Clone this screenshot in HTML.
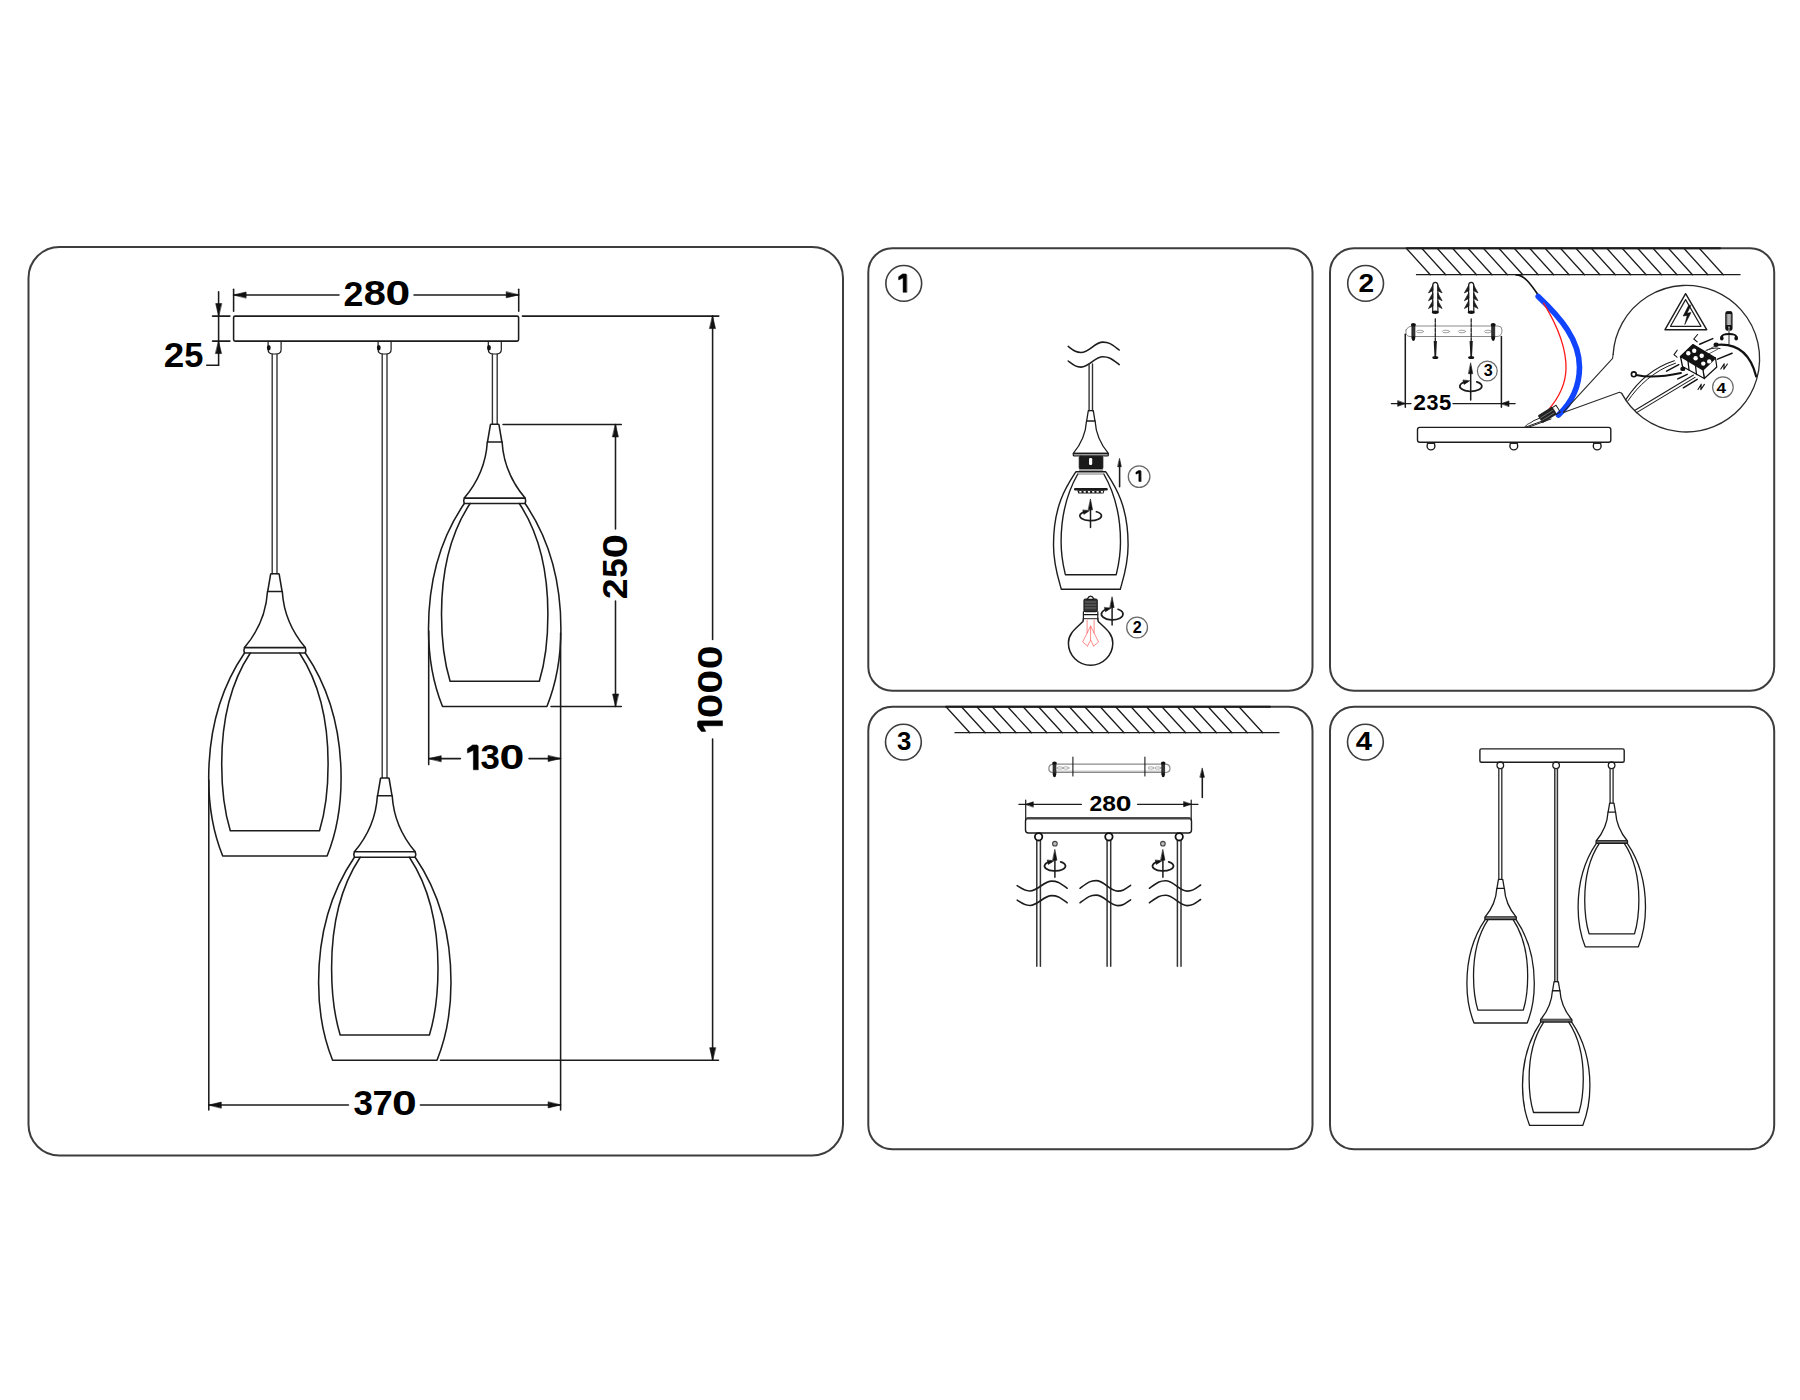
<!DOCTYPE html>
<html><head><meta charset="utf-8"><style>
html,body{margin:0;padding:0;background:#fff;overflow:hidden;}
svg{display:block;}
text{font-family:"Liberation Sans",sans-serif;}
</style></head><body>
<svg width="1800" height="1400" viewBox="0 0 1800 1400" stroke-linecap="round" stroke-linejoin="round">
<rect x="0" y="0" width="1800" height="1400" fill="#fff"/>
<g >
<rect x="28.5" y="247" width="814.5" height="908.5" rx="31" fill="none" stroke="#3d3d3d" stroke-width="2"/>
<rect x="233.6" y="316.1" width="285" height="25" rx="1.5" stroke="#1c1c1c" stroke-width="1.55" fill="none" />
<path d="M268.1,341.3 L268.1,349.5 Q268.1,353.6 272.2,354 L277,354 Q281.1,353.6 281.1,349.5 L281.1,341.3" stroke="#1c1c1c" stroke-width="1.2" fill="none" />
<ellipse cx="268.8" cy="347.8" rx="1.9" ry="2.7" fill="#111"/>
<path d="M378.1,341.3 L378.1,349.5 Q378.1,353.6 382.2,354 L387,354 Q391.1,353.6 391.1,349.5 L391.1,341.3" stroke="#1c1c1c" stroke-width="1.2" fill="none" />
<ellipse cx="378.8" cy="347.8" rx="1.9" ry="2.7" fill="#111"/>
<path d="M488.3,341.3 L488.3,349.5 Q488.3,353.6 492.4,354 L497.2,354 Q501.3,353.6 501.3,349.5 L501.3,341.3" stroke="#1c1c1c" stroke-width="1.2" fill="none" />
<ellipse cx="489" cy="347.8" rx="1.9" ry="2.7" fill="#111"/>
<line x1="272.2" y1="354" x2="272.2" y2="573.7" stroke="#333" stroke-width="1.38" />
<line x1="277" y1="354" x2="277" y2="573.7" stroke="#333" stroke-width="1.38" />
<line x1="382.2" y1="354" x2="382.2" y2="777.8" stroke="#333" stroke-width="1.38" />
<line x1="387" y1="354" x2="387" y2="777.8" stroke="#333" stroke-width="1.38" />
<line x1="492.4" y1="354" x2="492.4" y2="424.2" stroke="#333" stroke-width="1.38" />
<line x1="497.2" y1="354" x2="497.2" y2="424.2" stroke="#333" stroke-width="1.38" />
<path d="M270.6,574.3 Q270.6,573.7 271.5,573.7 L278.3,573.7 Q279.2,573.7 279.2,574.3 L282.1,591.5 L267.7,591.5 Z" stroke="#1c1c1c" stroke-width="1.55" fill="none" />
<path d="M267.5,591.5 C266.3,611.7 257.9,631.7 244.5,647.6 L305.3,647.6 C291.9,631.7 283.5,611.7 282.3,591.5" stroke="#1c1c1c" stroke-width="1.55" fill="none" />
<path d="M244.5,647.6 L243.9,650.3 L244.5,653 L305.3,653 L305.9,650.3 L305.3,647.6" stroke="#1c1c1c" stroke-width="1.55" fill="none" />
<path d="M244.5,653 C224.9,681.7 208.7,721.7 208.7,778.3 C208.7,813.7 216.9,841.7 222.7,856 L327.1,856 C332.9,841.7 341.1,813.7 341.1,778.3 C341.1,721.7 324.9,681.7 305.3,653" stroke="#1c1c1c" stroke-width="1.55" fill="none" />
<path d="M250.3,653 C235.9,674.7 221.7,709.7 221.7,763.7 C221.7,795.7 226.9,819.7 230.3,830.7 L319.5,830.7 C322.9,819.7 328.1,795.7 328.1,763.7 C328.1,709.7 313.9,674.7 299.5,653" stroke="#1c1c1c" stroke-width="1.55" fill="none" />
<path d="M380.5,778.5 Q380.5,777.9 381.4,777.9 L388.2,777.9 Q389.1,777.9 389.1,778.5 L392,795.7 L377.6,795.7 Z" stroke="#1c1c1c" stroke-width="1.55" fill="none" />
<path d="M377.4,795.7 C376.2,815.9 367.8,835.9 354.4,851.8 L415.2,851.8 C401.8,835.9 393.4,815.9 392.2,795.7" stroke="#1c1c1c" stroke-width="1.55" fill="none" />
<path d="M354.4,851.8 L353.8,854.5 L354.4,857.2 L415.2,857.2 L415.8,854.5 L415.2,851.8" stroke="#1c1c1c" stroke-width="1.55" fill="none" />
<path d="M354.4,857.2 C334.8,885.9 318.6,925.9 318.6,982.5 C318.6,1017.9 326.8,1045.9 332.6,1060.2 L437,1060.2 C442.8,1045.9 451,1017.9 451,982.5 C451,925.9 434.8,885.9 415.2,857.2" stroke="#1c1c1c" stroke-width="1.55" fill="none" />
<path d="M360.2,857.2 C345.8,878.9 331.6,913.9 331.6,967.9 C331.6,999.9 336.8,1023.9 340.2,1034.9 L429.4,1034.9 C432.8,1023.9 438,999.9 438,967.9 C438,913.9 423.8,878.9 409.4,857.2" stroke="#1c1c1c" stroke-width="1.55" fill="none" />
<path d="M490.4,424.8 Q490.4,424.2 491.3,424.2 L498.1,424.2 Q499,424.2 499,424.8 L501.9,442 L487.5,442 Z" stroke="#1c1c1c" stroke-width="1.55" fill="none" />
<path d="M487.3,442 C486.1,462.2 477.7,482.2 464.3,498.1 L525.1,498.1 C511.7,482.2 503.3,462.2 502.1,442" stroke="#1c1c1c" stroke-width="1.55" fill="none" />
<path d="M464.3,498.1 L463.7,500.8 L464.3,503.5 L525.1,503.5 L525.7,500.8 L525.1,498.1" stroke="#1c1c1c" stroke-width="1.55" fill="none" />
<path d="M464.3,503.5 C444.7,532.2 428.5,572.2 428.5,628.8 C428.5,664.2 436.7,692.2 442.5,706.5 L546.9,706.5 C552.7,692.2 560.9,664.2 560.9,628.8 C560.9,572.2 544.7,532.2 525.1,503.5" stroke="#1c1c1c" stroke-width="1.55" fill="none" />
<path d="M470.1,503.5 C455.7,525.2 441.5,560.2 441.5,614.2 C441.5,646.2 446.7,670.2 450.1,681.2 L539.3,681.2 C542.7,670.2 547.9,646.2 547.9,614.2 C547.9,560.2 533.7,525.2 519.3,503.5" stroke="#1c1c1c" stroke-width="1.55" fill="none" />
<line x1="233.6" y1="289.3" x2="233.6" y2="311.3" stroke="#1c1c1c" stroke-width="1.55" />
<line x1="518.7" y1="289.3" x2="518.7" y2="311.3" stroke="#1c1c1c" stroke-width="1.55" />
<line x1="233.6" y1="294.9" x2="339" y2="294.9" stroke="#1c1c1c" stroke-width="1.55" />
<line x1="414" y1="294.9" x2="518.7" y2="294.9" stroke="#1c1c1c" stroke-width="1.55" />
<path d="M233.6,294.9 L246.1,292 L246.1,297.8 Z" fill="#111" stroke="#111" stroke-width="0.6" stroke-linejoin="round"/>
<path d="M518.7,294.9 L506.2,297.8 L506.2,292 Z" fill="#111" stroke="#111" stroke-width="0.6" stroke-linejoin="round"/>
<text x="343.45" y="305.8" font-size="35.82" textLength="19.89" lengthAdjust="spacingAndGlyphs" fill="#000" font-weight="bold">2</text>
<text x="363.71" y="305.45" font-size="35.31" textLength="22.13" lengthAdjust="spacingAndGlyphs" fill="#000" font-weight="bold">8</text>
<text x="385.42" y="305.45" font-size="35.31" textLength="24.71" lengthAdjust="spacingAndGlyphs" fill="#000" font-weight="bold">0</text>
<line x1="218.6" y1="291.7" x2="218.6" y2="365.3" stroke="#1c1c1c" stroke-width="1.55" />
<line x1="206.7" y1="365.3" x2="218.6" y2="365.3" stroke="#1c1c1c" stroke-width="1.55" />
<line x1="212.5" y1="316.1" x2="229.9" y2="316.1" stroke="#1c1c1c" stroke-width="1.55" />
<line x1="212.5" y1="341.1" x2="229.9" y2="341.1" stroke="#1c1c1c" stroke-width="1.55" />
<path d="M218.6,316.1 L215.7,303.6 L221.5,303.6 Z" fill="#111" stroke="#111" stroke-width="0.6" stroke-linejoin="round"/>
<path d="M218.6,341.1 L221.5,353.6 L215.7,353.6 Z" fill="#111" stroke="#111" stroke-width="0.6" stroke-linejoin="round"/>
<text x="163.71" y="367.2" font-size="35.82" textLength="20.47" lengthAdjust="spacingAndGlyphs" fill="#000" font-weight="bold">2</text>
<text x="184.13" y="366.85" font-size="35.31" textLength="19.14" lengthAdjust="spacingAndGlyphs" fill="#000" font-weight="bold">5</text>
<line x1="522.4" y1="316.1" x2="718.8" y2="316.1" stroke="#1c1c1c" stroke-width="1.55" />
<line x1="440.5" y1="1060.2" x2="718.5" y2="1060.2" stroke="#1c1c1c" stroke-width="1.55" />
<line x1="712.6" y1="316.1" x2="712.6" y2="639.5" stroke="#1c1c1c" stroke-width="1.55" />
<line x1="712.6" y1="739" x2="712.6" y2="1060.2" stroke="#1c1c1c" stroke-width="1.55" />
<path d="M712.6,316.1 L715.5,328.6 L709.7,328.6 Z" fill="#111" stroke="#111" stroke-width="0.6" stroke-linejoin="round"/>
<path d="M712.6,1060.2 L709.7,1047.7 L715.5,1047.7 Z" fill="#111" stroke="#111" stroke-width="0.6" stroke-linejoin="round"/>
<path d="M722.5,721 L722.5,725.75 L702.88,725.75 L705.75,731.29 L705,731.5 L701.38,731.5 L697.5,726.5 L697.5,722 L698.5,721 Z" fill="#000" stroke="#000" stroke-width="0.5" stroke-linejoin="round"/>
<text transform="translate(722.15,718.27) rotate(-90)" x="0" y="0" font-size="35.31" textLength="24.59" lengthAdjust="spacingAndGlyphs" fill="#000" font-weight="bold">0</text>
<text transform="translate(722.15,693.73) rotate(-90)" x="0" y="0" font-size="35.31" textLength="24" lengthAdjust="spacingAndGlyphs" fill="#000" font-weight="bold">0</text>
<text transform="translate(722.15,669.21) rotate(-90)" x="0" y="0" font-size="35.31" textLength="23.77" lengthAdjust="spacingAndGlyphs" fill="#000" font-weight="bold">0</text>
<line x1="503" y1="424.4" x2="621.3" y2="424.4" stroke="#1c1c1c" stroke-width="1.55" />
<line x1="551" y1="706.5" x2="621.3" y2="706.5" stroke="#1c1c1c" stroke-width="1.55" />
<line x1="615.5" y1="424.4" x2="615.5" y2="529" stroke="#1c1c1c" stroke-width="1.55" />
<line x1="615.5" y1="601" x2="615.5" y2="706.5" stroke="#1c1c1c" stroke-width="1.55" />
<path d="M615.5,424.4 L618.4,436.9 L612.6,436.9 Z" fill="#111" stroke="#111" stroke-width="0.6" stroke-linejoin="round"/>
<path d="M615.5,706.5 L612.6,694 L618.4,694 Z" fill="#111" stroke="#111" stroke-width="0.6" stroke-linejoin="round"/>
<text transform="translate(627.3,599.21) rotate(-90)" x="0" y="0" font-size="35.67" textLength="20.81" lengthAdjust="spacingAndGlyphs" fill="#000" font-weight="bold">2</text>
<text transform="translate(626.95,577.79) rotate(-90)" x="0" y="0" font-size="35.17" textLength="19.47" lengthAdjust="spacingAndGlyphs" fill="#000" font-weight="bold">5</text>
<text transform="translate(626.95,558.48) rotate(-90)" x="0" y="0" font-size="35.17" textLength="24.71" lengthAdjust="spacingAndGlyphs" fill="#000" font-weight="bold">0</text>
<line x1="428.7" y1="631" x2="428.7" y2="764.6" stroke="#1c1c1c" stroke-width="1.55" />
<line x1="560.6" y1="633" x2="560.6" y2="1110" stroke="#1c1c1c" stroke-width="1.55" />
<line x1="428.7" y1="758.6" x2="460.4" y2="758.6" stroke="#1c1c1c" stroke-width="1.55" />
<line x1="529" y1="758.6" x2="560.6" y2="758.6" stroke="#1c1c1c" stroke-width="1.55" />
<path d="M428.7,758.6 L441.2,755.7 L441.2,761.5 Z" fill="#111" stroke="#111" stroke-width="0.6" stroke-linejoin="round"/>
<path d="M560.6,758.6 L548.1,761.5 L548.1,755.7 Z" fill="#111" stroke="#111" stroke-width="0.6" stroke-linejoin="round"/>
<path d="M478.1,769.8 L473.37,769.8 L473.37,750.25 L467.61,753.12 L467.4,752.37 L467.4,748.76 L472.62,744.9 L477.1,744.9 L478.1,745.9 Z" fill="#000" stroke="#000" stroke-width="0.5" stroke-linejoin="round"/>
<text x="480.6" y="769.45" font-size="35.17" textLength="19.36" lengthAdjust="spacingAndGlyphs" fill="#000" font-weight="bold">3</text>
<text x="499.61" y="769.45" font-size="35.17" textLength="24.82" lengthAdjust="spacingAndGlyphs" fill="#000" font-weight="bold">0</text>
<line x1="208.8" y1="780" x2="208.8" y2="1110" stroke="#1c1c1c" stroke-width="1.55" />
<line x1="208.8" y1="1105" x2="348.4" y2="1105" stroke="#1c1c1c" stroke-width="1.55" />
<line x1="420.4" y1="1105" x2="560.6" y2="1105" stroke="#1c1c1c" stroke-width="1.55" />
<path d="M208.8,1105 L221.3,1102.1 L221.3,1107.9 Z" fill="#111" stroke="#111" stroke-width="0.6" stroke-linejoin="round"/>
<path d="M560.6,1105 L548.1,1107.9 L548.1,1102.1 Z" fill="#111" stroke="#111" stroke-width="0.6" stroke-linejoin="round"/>
<text x="353.49" y="1115.34" font-size="35.88" textLength="19.47" lengthAdjust="spacingAndGlyphs" fill="#000" font-weight="bold">3</text>
<text x="372.53" y="1115.34" font-size="35.88" textLength="20.28" lengthAdjust="spacingAndGlyphs" fill="#000" font-weight="bold">7</text>
<text x="391.92" y="1115.34" font-size="35.88" textLength="24.71" lengthAdjust="spacingAndGlyphs" fill="#000" font-weight="bold">0</text>
<rect x="868.3" y="248.3" width="444.2" height="442.5" rx="24" fill="none" stroke="#3d3d3d" stroke-width="2"/>
<rect x="1330" y="248.3" width="444.2" height="442.5" rx="24" fill="none" stroke="#3d3d3d" stroke-width="2"/>
<rect x="868.3" y="706.8" width="444.2" height="442.5" rx="24" fill="none" stroke="#3d3d3d" stroke-width="2"/>
<rect x="1330" y="706.8" width="444.2" height="442.5" rx="24" fill="none" stroke="#3d3d3d" stroke-width="2"/>
<circle cx="903.75" cy="283.4" r="17.9" stroke="#3d3d3d" stroke-width="1.6" fill="none"/>
<path d="M906.6,292.3 L903.1,292.3 L903.1,277.86 L898.76,279.97 L898.6,279.42 L898.6,276.75 L902.55,273.9 L905.86,273.9 L906.6,274.64 Z" fill="#000" stroke="#000" stroke-width="0.5" stroke-linejoin="round"/>
<circle cx="1365.6" cy="283.4" r="17.9" stroke="#3d3d3d" stroke-width="1.6" fill="none"/>
<text x="1358.42" y="291.7" font-size="26.22" textLength="15.61" lengthAdjust="spacingAndGlyphs" fill="#000" font-weight="bold">2</text>
<circle cx="903.4" cy="742.1" r="17.9" stroke="#3d3d3d" stroke-width="1.6" fill="none"/>
<text x="897.01" y="750.44" font-size="25.56" textLength="14.32" lengthAdjust="spacingAndGlyphs" fill="#000" font-weight="bold">3</text>
<circle cx="1365.4" cy="742.1" r="17.9" stroke="#3d3d3d" stroke-width="1.6" fill="none"/>
<text x="1355.86" y="750.3" font-size="26.45" textLength="16.29" lengthAdjust="spacingAndGlyphs" fill="#000" font-weight="bold">4</text>
<line x1="1416.5" y1="274.7" x2="1740" y2="274.7" stroke="#1c1c1c" stroke-width="1.3" />
<line x1="1406.3" y1="248.3" x2="1430.3" y2="274.7" stroke="#1c1c1c" stroke-width="1.3" />
<line x1="1421.72" y1="248.3" x2="1445.72" y2="274.7" stroke="#1c1c1c" stroke-width="1.3" />
<line x1="1437.14" y1="248.3" x2="1461.14" y2="274.7" stroke="#1c1c1c" stroke-width="1.3" />
<line x1="1452.56" y1="248.3" x2="1476.56" y2="274.7" stroke="#1c1c1c" stroke-width="1.3" />
<line x1="1467.98" y1="248.3" x2="1491.98" y2="274.7" stroke="#1c1c1c" stroke-width="1.3" />
<line x1="1483.4" y1="248.3" x2="1507.4" y2="274.7" stroke="#1c1c1c" stroke-width="1.3" />
<line x1="1498.82" y1="248.3" x2="1522.82" y2="274.7" stroke="#1c1c1c" stroke-width="1.3" />
<line x1="1514.24" y1="248.3" x2="1538.24" y2="274.7" stroke="#1c1c1c" stroke-width="1.3" />
<line x1="1529.66" y1="248.3" x2="1553.66" y2="274.7" stroke="#1c1c1c" stroke-width="1.3" />
<line x1="1545.08" y1="248.3" x2="1569.08" y2="274.7" stroke="#1c1c1c" stroke-width="1.3" />
<line x1="1560.5" y1="248.3" x2="1584.5" y2="274.7" stroke="#1c1c1c" stroke-width="1.3" />
<line x1="1575.92" y1="248.3" x2="1599.92" y2="274.7" stroke="#1c1c1c" stroke-width="1.3" />
<line x1="1591.34" y1="248.3" x2="1615.34" y2="274.7" stroke="#1c1c1c" stroke-width="1.3" />
<line x1="1606.76" y1="248.3" x2="1630.76" y2="274.7" stroke="#1c1c1c" stroke-width="1.3" />
<line x1="1622.18" y1="248.3" x2="1646.18" y2="274.7" stroke="#1c1c1c" stroke-width="1.3" />
<line x1="1637.6" y1="248.3" x2="1661.6" y2="274.7" stroke="#1c1c1c" stroke-width="1.3" />
<line x1="1653.02" y1="248.3" x2="1677.02" y2="274.7" stroke="#1c1c1c" stroke-width="1.3" />
<line x1="1668.44" y1="248.3" x2="1692.44" y2="274.7" stroke="#1c1c1c" stroke-width="1.3" />
<line x1="1683.86" y1="248.3" x2="1707.86" y2="274.7" stroke="#1c1c1c" stroke-width="1.3" />
<line x1="1699.28" y1="248.3" x2="1723.28" y2="274.7" stroke="#1c1c1c" stroke-width="1.3" />
<line x1="1407" y1="248.3" x2="1720" y2="248.3" stroke="#1c1c1c" stroke-width="2" />
<line x1="955" y1="732.7" x2="1279" y2="732.7" stroke="#1c1c1c" stroke-width="1.3" />
<line x1="946" y1="706.8" x2="969.8" y2="732.7" stroke="#1c1c1c" stroke-width="1.3" />
<line x1="961.42" y1="706.8" x2="985.22" y2="732.7" stroke="#1c1c1c" stroke-width="1.3" />
<line x1="976.84" y1="706.8" x2="1000.64" y2="732.7" stroke="#1c1c1c" stroke-width="1.3" />
<line x1="992.26" y1="706.8" x2="1016.06" y2="732.7" stroke="#1c1c1c" stroke-width="1.3" />
<line x1="1007.68" y1="706.8" x2="1031.48" y2="732.7" stroke="#1c1c1c" stroke-width="1.3" />
<line x1="1023.1" y1="706.8" x2="1046.9" y2="732.7" stroke="#1c1c1c" stroke-width="1.3" />
<line x1="1038.52" y1="706.8" x2="1062.32" y2="732.7" stroke="#1c1c1c" stroke-width="1.3" />
<line x1="1053.94" y1="706.8" x2="1077.74" y2="732.7" stroke="#1c1c1c" stroke-width="1.3" />
<line x1="1069.36" y1="706.8" x2="1093.16" y2="732.7" stroke="#1c1c1c" stroke-width="1.3" />
<line x1="1084.78" y1="706.8" x2="1108.58" y2="732.7" stroke="#1c1c1c" stroke-width="1.3" />
<line x1="1100.2" y1="706.8" x2="1124" y2="732.7" stroke="#1c1c1c" stroke-width="1.3" />
<line x1="1115.62" y1="706.8" x2="1139.42" y2="732.7" stroke="#1c1c1c" stroke-width="1.3" />
<line x1="1131.04" y1="706.8" x2="1154.84" y2="732.7" stroke="#1c1c1c" stroke-width="1.3" />
<line x1="1146.46" y1="706.8" x2="1170.26" y2="732.7" stroke="#1c1c1c" stroke-width="1.3" />
<line x1="1161.88" y1="706.8" x2="1185.68" y2="732.7" stroke="#1c1c1c" stroke-width="1.3" />
<line x1="1177.3" y1="706.8" x2="1201.1" y2="732.7" stroke="#1c1c1c" stroke-width="1.3" />
<line x1="1192.72" y1="706.8" x2="1216.52" y2="732.7" stroke="#1c1c1c" stroke-width="1.3" />
<line x1="1208.14" y1="706.8" x2="1231.94" y2="732.7" stroke="#1c1c1c" stroke-width="1.3" />
<line x1="1223.56" y1="706.8" x2="1247.36" y2="732.7" stroke="#1c1c1c" stroke-width="1.3" />
<line x1="1238.98" y1="706.8" x2="1262.78" y2="732.7" stroke="#1c1c1c" stroke-width="1.3" />
<line x1="946" y1="706.8" x2="1270" y2="706.8" stroke="#1c1c1c" stroke-width="2" />
<path d="M1068.2,346.4 C1073.96,350.67 1075.88,352.5 1081,352.5 C1089.32,352.5 1094.58,342.1 1102.9,342.1 C1109.42,342.1 1111.87,344.47 1119.2,350" stroke="#1c1c1c" stroke-width="1.55" fill="none" />
<path d="M1068.2,361 C1073.96,365.27 1075.88,367.1 1081,367.1 C1089.32,367.1 1094.58,356.7 1102.9,356.7 C1109.42,356.7 1111.87,359.07 1119.2,364.6" stroke="#1c1c1c" stroke-width="1.55" fill="none" />
<line x1="1089.1" y1="364" x2="1089.1" y2="410.7" stroke="#333" stroke-width="1.38" />
<line x1="1092.5" y1="364" x2="1092.5" y2="410.7" stroke="#333" stroke-width="1.38" />
<path d="M1088.31,410.7 L1093.29,410.7 L1094.96,420.99 L1086.64,420.99 Z" stroke="#1c1c1c" stroke-width="1.3" fill="none" />
<path d="M1086.52,420.99 C1085.83,432.66 1080.97,444.22 1073.23,453.41 L1108.37,453.41 C1100.63,444.22 1095.77,432.66 1095.08,420.99" stroke="#1c1c1c" stroke-width="1.3" fill="none" />
<rect x="1073.23" y="453.41" width="35.14" height="2.6" rx="1" stroke="#1c1c1c" stroke-width="1.2" fill="#999" />
<rect x="1079.2" y="456.3" width="23.7" height="12.7" rx="1.2" stroke="#111" stroke-width="0.8" fill="#1a1a1a" />
<rect x="1089" y="458" width="3.2" height="7" rx="1.2" stroke="#fff" stroke-width="0" fill="#fff" />
<rect x="1079" y="469.2" width="24.2" height="2.4" rx="0" stroke="#999" stroke-width="0" fill="#9a9a9a" />
<path d="M1075.9,471.8 C1066.8,485.8 1053.5,504.8 1053.5,544.9 C1053.5,565 1058.8,580 1061.3,589.2 L1120.3,589.2 C1122.8,580 1128.1,565 1128.1,544.9 C1128.1,504.8 1114.8,485.8 1105.7,471.8 Z" stroke="#1c1c1c" stroke-width="1.4" fill="none" />
<path d="M1077.8,474 C1069.8,488 1061.1,508 1061.1,541.7 C1061.1,558 1063.8,568 1065.4,574.7 L1116.2,574.7 C1117.8,568 1120.5,558 1120.5,541.7 C1120.5,508 1111.8,488 1103.8,474" stroke="#1c1c1c" stroke-width="1.4" fill="none" />
<line x1="1077.8" y1="474" x2="1103.8" y2="474" stroke="#777" stroke-width="1" />
<rect x="1074" y="488.1" width="33.8" height="2.4" rx="1.1" stroke="#1c1c1c" stroke-width="0" fill="#1a1a1a" />
<path d="M1077.3,490.3 L1104.5,490.3 L1103.5,493.6 L1078.3,493.6 Z" fill="#1a1a1a"/>
<rect x="1079.3" y="491" width="2.2" height="1.6" fill="#fff"/>
<rect x="1083.6" y="491" width="2.2" height="1.6" fill="#fff"/>
<rect x="1087.9" y="491" width="2.2" height="1.6" fill="#fff"/>
<rect x="1092.2" y="491" width="2.2" height="1.6" fill="#fff"/>
<rect x="1096.5" y="491" width="2.2" height="1.6" fill="#fff"/>
<rect x="1100.8" y="491" width="2.2" height="1.6" fill="#fff"/>
<line x1="1090.5" y1="527.6" x2="1090.5" y2="507.3" stroke="#1c1c1c" stroke-width="1.5" />
<path d="M1090.5,499.3 L1092.5,509.8 L1088.5,509.8 Z" fill="#111" stroke="#111" stroke-width="0.6" stroke-linejoin="round"/>
<path d="M1086.72,511.31 A10.8,4.83 0 1 0 1096.44,511.74" stroke="#1c1c1c" stroke-width="1.7" fill="none" />
<path d="M1089.2,510.87 L1083.89,514.37 L1082.87,510.29 Z" fill="#111" stroke="#111" stroke-width="0.6" stroke-linejoin="round"/>
<line x1="1119.6" y1="486.7" x2="1119.6" y2="465" stroke="#1c1c1c" stroke-width="1.55" />
<path d="M1119.6,458.7 L1121.3,466.7 L1117.9,466.7 Z" fill="#111" stroke="#111" stroke-width="0.6" stroke-linejoin="round"/>
<circle cx="1139.1" cy="476.6" r="10.8" stroke="#6a6a6a" stroke-width="1.3" fill="none"/>
<path d="M1140.9,481.4 L1138.85,481.4 L1138.85,472.92 L1136,474.16 L1135.9,473.84 L1135.9,472.27 L1138.52,470.6 L1140.47,470.6 L1140.9,471.03 Z" fill="#000" stroke="#000" stroke-width="0.5" stroke-linejoin="round"/>
<path d="M1083.4,618.7 L1083,621.5 C1076.6,628 1068.4,633 1068.4,643 A22.2,22.2 0 0 0 1112.8,643 C1112.8,633 1104.6,628 1098.2,621.5 L1097.8,618.7" stroke="#1c1c1c" stroke-width="1.5" fill="none" />
<rect x="1084" y="599" width="13.2" height="12.7" rx="1.5" stroke="#1c1c1c" stroke-width="1.2" fill="#333" />
<line x1="1085.1" y1="602" x2="1096.1" y2="602" stroke="#888" stroke-width="0.7" />
<line x1="1085.1" y1="605" x2="1096.1" y2="605" stroke="#888" stroke-width="0.7" />
<line x1="1085.1" y1="608" x2="1096.1" y2="608" stroke="#888" stroke-width="0.7" />
<path d="M1087.1,599.3 Q1090.6,593 1094.1,599.3 Z" stroke="#1c1c1c" stroke-width="1.3" fill="#fff" />
<line x1="1083.6" y1="614.6" x2="1097.6" y2="614.6" stroke="#111" stroke-width="1.4" />
<line x1="1083.4" y1="611.7" x2="1083.4" y2="618.7" stroke="#1c1c1c" stroke-width="1.2" />
<line x1="1097.8" y1="611.7" x2="1097.8" y2="618.7" stroke="#1c1c1c" stroke-width="1.2" />
<line x1="1083.4" y1="618.7" x2="1097.8" y2="618.7" stroke="#222" stroke-width="1" />
<path d="M1087.1,620 L1087.1,633 L1082.6,642 L1087.6,646 M1094.1,620 L1094.1,633 L1098.6,642 L1093.6,646 M1087.1,633 L1090.6,626 L1094.1,633 M1090.6,626 L1090.6,640 L1087.6,646 M1090.6,640 L1093.6,646" stroke="#ff5a5a" stroke-width="0.7" fill="none" />
<line x1="1112.1" y1="625.1" x2="1112.1" y2="605.1" stroke="#1c1c1c" stroke-width="1.5" />
<path d="M1112.1,597.1 L1114.1,607.6 L1110.1,607.6 Z" fill="#111" stroke="#111" stroke-width="0.6" stroke-linejoin="round"/>
<path d="M1108.32,608.75 A10.8,5.75 0 1 0 1118.04,609.27" stroke="#1c1c1c" stroke-width="1.7" fill="none" />
<path d="M1110.8,608.24 L1105.49,611.73 L1104.47,607.65 Z" fill="#111" stroke="#111" stroke-width="0.6" stroke-linejoin="round"/>
<circle cx="1137.1" cy="627.5" r="10.4" stroke="#6a6a6a" stroke-width="1.3" fill="none"/>
<text x="1132.63" y="633" font-size="16.62" textLength="9.02" lengthAdjust="spacingAndGlyphs" fill="#000" font-weight="bold">2</text>
<path d="M1432.7,311.8 L1432.7,285.5 Q1432.7,282.3 1435.3,282.3 Q1437.9,282.3 1437.9,285.5 L1437.9,311.8" stroke="#1c1c1c" stroke-width="1.2" fill="none" />
<path d="M1432.7,285.4 L1428.5,292.9 L1432.7,290.7 Z" fill="#1a1a1a" stroke="#1a1a1a" stroke-width="0.7" stroke-linejoin="round"/>
<path d="M1437.9,285.4 L1442.1,292.9 L1437.9,290.7 Z" fill="#1a1a1a" stroke="#1a1a1a" stroke-width="0.7" stroke-linejoin="round"/>
<path d="M1432.7,293.2 L1428.5,300.7 L1432.7,298.5 Z" fill="#1a1a1a" stroke="#1a1a1a" stroke-width="0.7" stroke-linejoin="round"/>
<path d="M1437.9,293.2 L1442.1,300.7 L1437.9,298.5 Z" fill="#1a1a1a" stroke="#1a1a1a" stroke-width="0.7" stroke-linejoin="round"/>
<path d="M1432.7,301 L1428.5,308.5 L1432.7,306.3 Z" fill="#1a1a1a" stroke="#1a1a1a" stroke-width="0.7" stroke-linejoin="round"/>
<path d="M1437.9,301 L1442.1,308.5 L1437.9,306.3 Z" fill="#1a1a1a" stroke="#1a1a1a" stroke-width="0.7" stroke-linejoin="round"/>
<ellipse cx="1435.3" cy="312.2" rx="3.5" ry="1.7" fill="#111"/>
<path d="M1468.6,311.8 L1468.6,285.5 Q1468.6,282.3 1471.2,282.3 Q1473.8,282.3 1473.8,285.5 L1473.8,311.8" stroke="#1c1c1c" stroke-width="1.2" fill="none" />
<path d="M1468.6,285.4 L1464.4,292.9 L1468.6,290.7 Z" fill="#1a1a1a" stroke="#1a1a1a" stroke-width="0.7" stroke-linejoin="round"/>
<path d="M1473.8,285.4 L1478,292.9 L1473.8,290.7 Z" fill="#1a1a1a" stroke="#1a1a1a" stroke-width="0.7" stroke-linejoin="round"/>
<path d="M1468.6,293.2 L1464.4,300.7 L1468.6,298.5 Z" fill="#1a1a1a" stroke="#1a1a1a" stroke-width="0.7" stroke-linejoin="round"/>
<path d="M1473.8,293.2 L1478,300.7 L1473.8,298.5 Z" fill="#1a1a1a" stroke="#1a1a1a" stroke-width="0.7" stroke-linejoin="round"/>
<path d="M1468.6,301 L1464.4,308.5 L1468.6,306.3 Z" fill="#1a1a1a" stroke="#1a1a1a" stroke-width="0.7" stroke-linejoin="round"/>
<path d="M1473.8,301 L1478,308.5 L1473.8,306.3 Z" fill="#1a1a1a" stroke="#1a1a1a" stroke-width="0.7" stroke-linejoin="round"/>
<ellipse cx="1471.2" cy="312.2" rx="3.5" ry="1.7" fill="#111"/>
<path d="M1406,330 Q1408,326 1412,326 L1498,326 Q1502,326 1502,330 Q1502,336.5 1497,336.5 L1410,336.5 Q1405,336.5 1406,330 Z" stroke="#8a8a8a" stroke-width="1" fill="none" />
<ellipse cx="1420" cy="331.5" rx="3.6" ry="1.3" fill="none" stroke="#8a8a8a" stroke-width="0.8"/>
<ellipse cx="1446" cy="331.5" rx="3.6" ry="1.3" fill="none" stroke="#8a8a8a" stroke-width="0.8"/>
<ellipse cx="1462" cy="331.5" rx="3.6" ry="1.3" fill="none" stroke="#8a8a8a" stroke-width="0.8"/>
<ellipse cx="1488" cy="331.5" rx="3.6" ry="1.3" fill="none" stroke="#8a8a8a" stroke-width="0.8"/>
<rect x="1411.9" y="324.5" width="3" height="14.5" rx="1.3" stroke="#1c1c1c" stroke-width="0.8" fill="#333" />
<ellipse cx="1413.4" cy="324.8" rx="2.5" ry="1.7" fill="#111"/>
<ellipse cx="1413.4" cy="338.5" rx="1.7" ry="2.4" fill="#111"/>
<rect x="1491.7" y="324.5" width="3" height="14.5" rx="1.3" stroke="#1c1c1c" stroke-width="0.8" fill="#333" />
<ellipse cx="1493.2" cy="324.8" rx="2.5" ry="1.7" fill="#111"/>
<ellipse cx="1493.2" cy="338.5" rx="1.7" ry="2.4" fill="#111"/>
<line x1="1435.3" y1="318.8" x2="1435.3" y2="340.4" stroke="#222" stroke-width="1.3" stroke-dasharray="3.5,1.3"/>
<path d="M1433.7,341 L1436.9,341 L1436.1,357 L1434.5,357 Z" fill="#1a1a1a"/>
<ellipse cx="1435.3" cy="357.6" rx="3" ry="1.5" fill="#111"/>
<line x1="1471.2" y1="318.8" x2="1471.2" y2="340.4" stroke="#222" stroke-width="1.3" stroke-dasharray="3.5,1.3"/>
<path d="M1469.6,341 L1472.8,341 L1472,357 L1470.4,357 Z" fill="#1a1a1a"/>
<ellipse cx="1471.2" cy="357.6" rx="3" ry="1.5" fill="#111"/>
<line x1="1405.3" y1="334.3" x2="1405.3" y2="407.3" stroke="#1c1c1c" stroke-width="1.5" />
<line x1="1501.4" y1="336.5" x2="1501.4" y2="407.3" stroke="#1c1c1c" stroke-width="1.5" />
<line x1="1391.4" y1="403.6" x2="1411" y2="403.6" stroke="#1c1c1c" stroke-width="1.4" />
<line x1="1453" y1="403.6" x2="1515.1" y2="403.6" stroke="#1c1c1c" stroke-width="1.4" />
<path d="M1405.3,403.6 L1397.7,406.3 L1397.7,400.9 Z" fill="#111" stroke="#111" stroke-width="0.6" stroke-linejoin="round"/>
<path d="M1501.4,403.6 L1509,400.9 L1509,406.3 Z" fill="#111" stroke="#111" stroke-width="0.6" stroke-linejoin="round"/>
<text x="1413.2" y="410.2" font-size="22.64" textLength="12.72" lengthAdjust="spacingAndGlyphs" fill="#000" font-weight="bold">2</text>
<text x="1426.5" y="409.98" font-size="22.32" textLength="11.97" lengthAdjust="spacingAndGlyphs" fill="#000" font-weight="bold">3</text>
<text x="1438.91" y="409.98" font-size="22.32" textLength="12.31" lengthAdjust="spacingAndGlyphs" fill="#000" font-weight="bold">5</text>
<line x1="1470.7" y1="400.1" x2="1470.7" y2="371.2" stroke="#1c1c1c" stroke-width="1.5" />
<path d="M1470.7,363.2 L1472.7,373.7 L1468.7,373.7 Z" fill="#111" stroke="#111" stroke-width="0.6" stroke-linejoin="round"/>
<path d="M1466.85,381.39 A11,5.17 0 1 0 1476.75,381.85" stroke="#1c1c1c" stroke-width="1.7" fill="none" />
<path d="M1469.38,380.92 L1464.07,384.41 L1463.05,380.34 Z" fill="#111" stroke="#111" stroke-width="0.6" stroke-linejoin="round"/>
<circle cx="1487.3" cy="371" r="9.9" stroke="#6a6a6a" stroke-width="1.2" fill="none"/>
<text x="1483.63" y="376.24" font-size="16.1" textLength="8.95" lengthAdjust="spacingAndGlyphs" fill="#000" font-weight="bold">3</text>
<circle cx="1431" cy="446" r="3.9" fill="#fff" stroke="#1c1c1c" stroke-width="1.4"/>
<line x1="1427.5" y1="443.2" x2="1434.5" y2="443.2" stroke="#222" stroke-width="1.6" />
<circle cx="1513.8" cy="446" r="3.9" fill="#fff" stroke="#1c1c1c" stroke-width="1.4"/>
<line x1="1510.3" y1="443.2" x2="1517.3" y2="443.2" stroke="#222" stroke-width="1.6" />
<circle cx="1597.2" cy="446" r="3.9" fill="#fff" stroke="#1c1c1c" stroke-width="1.4"/>
<line x1="1593.7" y1="443.2" x2="1600.7" y2="443.2" stroke="#222" stroke-width="1.6" />
<rect x="1417.5" y="427.4" width="193.3" height="14.9" rx="2.2" stroke="#1c1c1c" stroke-width="1.4" fill="#fff" />
<path d="M1516,274.9 C1524,275 1530,283 1538.2,295.1" stroke="#111" stroke-width="1.7" fill="none" />
<path d="M1538.2,296.5 C1561,318 1579.5,340 1579.5,367 C1579.5,390 1569,405 1558.5,415" stroke="#1144ff" stroke-width="5.6" fill="none" stroke-linecap="round"/>
<path d="M1543.6,303.2 C1560,330 1566.5,350 1566,369 C1565.5,388 1556,401 1548.4,409.8" stroke="#ff1a1a" stroke-width="1.3" fill="none" />
<g transform="translate(1548,415) rotate(-32)"><rect x="-9" y="-5" width="17" height="9" fill="#222" rx="1"/><path d="M-9,-1.5 L8,-1.5 M-9,1.5 L8,1.5" stroke="#777" stroke-width="0.8"/><rect x="7" y="-4" width="5" height="8" fill="none" stroke="#222" stroke-width="1"/></g>
<path d="M1524.7,427.4 C1527,423 1530,424 1533,421 L1540,418 M1526,427 L1545,420 M1528,427.4 L1551,419" stroke="#222" stroke-width="1" fill="none" />
<path d="M1613.13,354.4 A73.3,73.3 0 1 1 1621.7,393.33" stroke="#2a2a2a" stroke-width="1.3" fill="none" />
<path d="M1613.13,354.4 L1612.6,358.3 L1563.5,411.8 M1621.7,393.33 L1619.5,392.2 L1563.5,412.5" stroke="#2a2a2a" stroke-width="1.1" fill="none" />
<path d="M1685.6,293.7 L1706.7,329.7 L1665,329.7 Z" stroke="#1c1c1c" stroke-width="1.4" fill="none" stroke-linejoin="round"/>
<path d="M1685.6,299.6 L1701,326.3 L1670.5,326.3 Z" stroke="#1c1c1c" stroke-width="1.2" fill="none" />
<path d="M1688.6,305.5 L1683.2,316 L1687.2,315.4 L1684.8,324.5 L1691,312.6 L1687,313.2 L1690.8,305.5 Z" stroke="#111" stroke-width="0.6" fill="#111" />
<rect x="1725.9" y="312" width="6" height="18.2" rx="1.6" stroke="#111" stroke-width="1.3" fill="#999" />
<line x1="1729" y1="313" x2="1729" y2="329" stroke="#bbb" stroke-width="1.6" />
<rect x="1725.9" y="311.5" width="6" height="2.6" rx="1.2" stroke="#1c1c1c" stroke-width="0" fill="#111" />
<rect x="1725.9" y="325" width="6" height="5" rx="1.2" stroke="#1c1c1c" stroke-width="0" fill="#111" />
<rect x="1728.2" y="326.6" width="1.6" height="2" fill="#aaa"/>
<line x1="1729" y1="330" x2="1729" y2="345" stroke="#888" stroke-width="1.8" />
<path d="M1721.5,338.5 C1721,334.5 1725,334 1729,334 C1733,334 1737,334.5 1736.5,338.5" stroke="#111" stroke-width="1.8" fill="none" />
<ellipse cx="1721.8" cy="338.2" rx="1.8" ry="2.4" fill="#111"/><ellipse cx="1736.2" cy="338.2" rx="1.8" ry="2.4" fill="#111"/>
<path d="M1626,399.4 C1636,384 1652,368 1674.3,360.8" stroke="#1c1c1c" stroke-width="1.2" fill="none" />
<path d="M1627.8,401 C1638,386 1654,370.5 1675.5,363.2" stroke="#1c1c1c" stroke-width="1" fill="none" />
<path d="M1635,410.3 L1693.5,375 M1636.6,412.6 L1695,377.4" stroke="#1c1c1c" stroke-width="1.1" fill="none" />
<path d="M1636.3,375 C1645,377 1660,377.5 1681,373" stroke="#111" stroke-width="1.9" fill="none" />
<circle cx="1633.8" cy="374.3" r="2.4" stroke="#111" stroke-width="1.6" fill="none"/>
<path d="M1716,345 C1735,343 1750,352 1756.2,376.5" stroke="#111" stroke-width="2.2" fill="none" />
<path d="M1707,350 C1712,348 1716,347.5 1720,348.5" stroke="#1c1c1c" stroke-width="1.1" fill="none" />
<path d="M1700,354 L1716,345.5 M1703,357 L1718,349" stroke="#444" stroke-width="0.9" fill="none" />
<path d="M1680.5,356.5 L1693,344.5 L1715.5,358 L1703,370 Z" stroke="#111" stroke-width="1.2" fill="#111" />
<path d="M1703,370 L1715.5,358 L1716.8,367 L1704.3,378.5 Z" stroke="#111" stroke-width="1.2" fill="#fff" />
<path d="M1680.5,356.5 L1703,370 L1704.3,378.5 L1682.5,366.5 Z" stroke="#111" stroke-width="1.3" fill="#fff" />
<path d="M1688,361 L1689,370 M1695.5,365.5 L1696.5,374.5" stroke="#111" stroke-width="1.3" fill="none" />
<circle cx="1688.3" cy="353.3" r="2.2" fill="#fff"/>
<circle cx="1694.2" cy="350.8" r="2.2" fill="#fff"/>
<circle cx="1695.6" cy="358.3" r="2.2" fill="#fff"/>
<circle cx="1701.7" cy="355.8" r="2.2" fill="#fff"/>
<circle cx="1703.3" cy="363.6" r="2.2" fill="#fff"/>
<circle cx="1709.2" cy="361.4" r="2.2" fill="#fff"/>
<ellipse cx="1716.1" cy="344.7" rx="2.6" ry="2.2" fill="#111"/><ellipse cx="1682.8" cy="368.9" rx="2.6" ry="2.2" fill="#111"/>
<line x1="1699.6" y1="344.3" x2="1712.8" y2="338.6" stroke="#111" stroke-width="1.5" />
<line x1="1717.6" y1="359.1" x2="1732.1" y2="353.3" stroke="#111" stroke-width="1.5" />
<line x1="1666.6" y1="371.1" x2="1678.8" y2="364.7" stroke="#111" stroke-width="1.5" />
<line x1="1683.3" y1="387.8" x2="1697.2" y2="379.4" stroke="#111" stroke-width="1.5" />
<line x1="1677.8" y1="378.9" x2="1687.2" y2="374.4" stroke="#111" stroke-width="1.5" />
<path d="M1697.6,334.5 L1693.8,339 L1697.2,341.8" stroke="#111" stroke-width="1.1" fill="none" />
<path d="M1677.2,350.2 L1674,354.6 L1677,357.2" stroke="#111" stroke-width="1.1" fill="none" />
<path d="M1720.8,369 L1724.2,363.8 L1723.8,369.2 L1727.4,364" stroke="#111" stroke-width="1.1" fill="none" />
<path d="M1698,389.5 L1701.2,384.2 L1700.8,389.6 L1704.4,384.4" stroke="#111" stroke-width="1.1" fill="none" />
<circle cx="1722.9" cy="387.2" r="10.3" stroke="#6a6a6a" stroke-width="1.2" fill="none"/>
<text x="1716.64" y="392.6" font-size="14.97" textLength="9.55" lengthAdjust="spacingAndGlyphs" fill="#000" font-weight="bold">4</text>
<path d="M1049,767 Q1050,764.1 1054,764.1 L1165,764.1 Q1170,764.1 1170,768.5 Q1170,772.5 1165,772.5 L1053,772.5 Q1048,772.5 1049,767 Z" stroke="#8a8a8a" stroke-width="1.2" fill="none" />
<line x1="1056" y1="771.2" x2="1163" y2="771.2" stroke="#aaa" stroke-width="1" />
<ellipse cx="1060" cy="768" rx="3" ry="1.2" fill="none" stroke="#8a8a8a" stroke-width="0.7"/>
<ellipse cx="1066" cy="768" rx="3" ry="1.2" fill="none" stroke="#8a8a8a" stroke-width="0.7"/>
<ellipse cx="1151" cy="768" rx="3" ry="1.2" fill="none" stroke="#8a8a8a" stroke-width="0.7"/>
<ellipse cx="1158" cy="768" rx="3" ry="1.2" fill="none" stroke="#8a8a8a" stroke-width="0.7"/>
<rect x="1053.1" y="762.5" width="2.8" height="13" rx="1.2" stroke="#1c1c1c" stroke-width="0.8" fill="#333" />
<ellipse cx="1054.5" cy="763" rx="2.3" ry="1.6" fill="#111"/>
<ellipse cx="1054.5" cy="775" rx="1.5" ry="2.2" fill="#111"/>
<rect x="1161.8" y="762.5" width="2.8" height="13" rx="1.2" stroke="#1c1c1c" stroke-width="0.8" fill="#333" />
<ellipse cx="1163.2" cy="763" rx="2.3" ry="1.6" fill="#111"/>
<ellipse cx="1163.2" cy="775" rx="1.5" ry="2.2" fill="#111"/>
<line x1="1072.9" y1="757.1" x2="1072.9" y2="776" stroke="#1c1c1c" stroke-width="1.1" />
<line x1="1144.9" y1="757.1" x2="1144.9" y2="776" stroke="#1c1c1c" stroke-width="1.1" />
<line x1="1202.3" y1="797.4" x2="1202.3" y2="774" stroke="#1c1c1c" stroke-width="1.55" />
<path d="M1202.3,768.3 L1204.4,777.3 L1200.2,777.3 Z" fill="#111" stroke="#111" stroke-width="0.6" stroke-linejoin="round"/>
<line x1="1025.7" y1="800" x2="1025.7" y2="820" stroke="#1c1c1c" stroke-width="1.2" />
<line x1="1191.2" y1="800" x2="1191.2" y2="820" stroke="#1c1c1c" stroke-width="1.2" />
<line x1="1018.9" y1="804.3" x2="1081.5" y2="804.3" stroke="#1c1c1c" stroke-width="1.2" />
<line x1="1137.5" y1="804.3" x2="1198" y2="804.3" stroke="#1c1c1c" stroke-width="1.2" />
<path d="M1025.7,804.3 L1033.3,801.8 L1033.3,806.8 Z" fill="#111" stroke="#111" stroke-width="0.6" stroke-linejoin="round"/>
<path d="M1191.2,804.3 L1183.6,806.8 L1183.6,801.8 Z" fill="#111" stroke="#111" stroke-width="0.6" stroke-linejoin="round"/>
<text x="1089.4" y="811.3" font-size="22.64" textLength="12.72" lengthAdjust="spacingAndGlyphs" fill="#000" font-weight="bold">2</text>
<text x="1102.31" y="811.08" font-size="22.32" textLength="13.7" lengthAdjust="spacingAndGlyphs" fill="#000" font-weight="bold">8</text>
<text x="1115.67" y="811.08" font-size="22.32" textLength="15.69" lengthAdjust="spacingAndGlyphs" fill="#000" font-weight="bold">0</text>
<rect x="1025.5" y="818" width="166" height="15" rx="3" stroke="#1c1c1c" stroke-width="1.4" fill="none" />
<line x1="1027" y1="818.4" x2="1190" y2="818.4" stroke="#444" stroke-width="2" />
<line x1="1036.8" y1="840.5" x2="1036.8" y2="966.3" stroke="#333" stroke-width="1.5" />
<line x1="1040.4" y1="840.5" x2="1040.4" y2="966.3" stroke="#333" stroke-width="1.5" />
<circle cx="1038.6" cy="836.8" r="3.7" fill="#fff" stroke="#111" stroke-width="1.8"/>
<line x1="1107.1" y1="840.5" x2="1107.1" y2="966.3" stroke="#333" stroke-width="1.5" />
<line x1="1110.7" y1="840.5" x2="1110.7" y2="966.3" stroke="#333" stroke-width="1.5" />
<circle cx="1108.9" cy="836.8" r="3.7" fill="#fff" stroke="#111" stroke-width="1.8"/>
<line x1="1177.4" y1="840.5" x2="1177.4" y2="966.3" stroke="#333" stroke-width="1.5" />
<line x1="1181" y1="840.5" x2="1181" y2="966.3" stroke="#333" stroke-width="1.5" />
<circle cx="1179.2" cy="836.8" r="3.7" fill="#fff" stroke="#111" stroke-width="1.8"/>
<circle cx="1054.9" cy="843.7" r="2.3" fill="#bbb" stroke="#444" stroke-width="1.1"/>
<line x1="1054.9" y1="877.2" x2="1054.9" y2="857.7" stroke="#1c1c1c" stroke-width="1.5" />
<path d="M1054.9,849.7 L1056.9,860.2 L1052.9,860.2 Z" fill="#111" stroke="#111" stroke-width="0.6" stroke-linejoin="round"/>
<path d="M1051.23,861.4 A10.5,4.94 0 1 0 1060.68,861.85" stroke="#1c1c1c" stroke-width="1.7" fill="none" />
<path d="M1053.64,860.96 L1048.33,864.45 L1047.31,860.37 Z" fill="#111" stroke="#111" stroke-width="0.6" stroke-linejoin="round"/>
<circle cx="1162.9" cy="843.7" r="2.3" fill="#bbb" stroke="#444" stroke-width="1.1"/>
<line x1="1162.9" y1="877.2" x2="1162.9" y2="857.7" stroke="#1c1c1c" stroke-width="1.5" />
<path d="M1162.9,849.7 L1164.9,860.2 L1160.9,860.2 Z" fill="#111" stroke="#111" stroke-width="0.6" stroke-linejoin="round"/>
<path d="M1159.23,861.4 A10.5,4.94 0 1 0 1168.68,861.85" stroke="#1c1c1c" stroke-width="1.7" fill="none" />
<path d="M1161.64,860.96 L1156.33,864.45 L1155.31,860.37 Z" fill="#111" stroke="#111" stroke-width="0.6" stroke-linejoin="round"/>
<path d="M1017.2,885.6 C1022.96,889.31 1024.88,890.9 1030,890.9 C1038.25,890.9 1043.45,881.1 1051.7,881.1 C1057.9,881.1 1060.23,883.26 1067.2,888.3" stroke="#1c1c1c" stroke-width="1.55" fill="none" />
<path d="M1017.2,900.1 C1022.96,903.81 1024.88,905.4 1030,905.4 C1038.25,905.4 1043.45,895.6 1051.7,895.6 C1057.9,895.6 1060.23,897.76 1067.2,902.8" stroke="#1c1c1c" stroke-width="1.55" fill="none" />
<path d="M1080,888.3 C1087.24,882.91 1089.66,880.6 1096.1,880.6 C1104.35,880.6 1109.55,891.1 1117.8,891.1 C1122.92,891.1 1124.84,889.36 1130.6,885.3" stroke="#1c1c1c" stroke-width="1.55" fill="none" />
<path d="M1080,902.8 C1087.24,897.41 1089.66,895.1 1096.1,895.1 C1104.35,895.1 1109.55,905.6 1117.8,905.6 C1122.92,905.6 1124.84,903.86 1130.6,899.8" stroke="#1c1c1c" stroke-width="1.55" fill="none" />
<path d="M1149.4,888.3 C1156.69,883.05 1159.12,880.8 1165.6,880.8 C1173.81,880.8 1178.99,891.1 1187.2,891.1 C1192.56,891.1 1194.57,889.27 1200.6,885" stroke="#1c1c1c" stroke-width="1.55" fill="none" />
<path d="M1149.4,902.8 C1156.69,897.55 1159.12,895.3 1165.6,895.3 C1173.81,895.3 1178.99,905.6 1187.2,905.6 C1192.56,905.6 1194.57,903.77 1200.6,899.5" stroke="#1c1c1c" stroke-width="1.55" fill="none" />
<rect x="1479.9" y="748.9" width="144.3" height="13.3" rx="1.5" stroke="#1c1c1c" stroke-width="1.4" fill="none" />
<circle cx="1500.3" cy="765.3" r="3.3" stroke="#1c1c1c" stroke-width="1.3" fill="none"/>
<circle cx="1556.1" cy="765.3" r="3.3" stroke="#1c1c1c" stroke-width="1.3" fill="none"/>
<circle cx="1611.6" cy="765.3" r="3.3" stroke="#1c1c1c" stroke-width="1.3" fill="none"/>
<line x1="1498.8" y1="768.6" x2="1498.8" y2="879.3" stroke="#333" stroke-width="1.38" />
<line x1="1501.8" y1="768.6" x2="1501.8" y2="879.3" stroke="#333" stroke-width="1.38" />
<line x1="1554.8" y1="768.6" x2="1554.8" y2="981.7" stroke="#333" stroke-width="1.5" />
<line x1="1557.4" y1="768.6" x2="1557.4" y2="981.7" stroke="#333" stroke-width="1.5" />
<line x1="1610.1" y1="768.6" x2="1610.1" y2="803.1" stroke="#333" stroke-width="1.38" />
<line x1="1613.1" y1="768.6" x2="1613.1" y2="803.1" stroke="#333" stroke-width="1.38" />
<path d="M1498.41,879.61 Q1498.41,879.3 1498.87,879.3 L1502.33,879.3 Q1502.79,879.3 1502.79,879.61 L1504.26,888.36 L1496.94,888.36 Z" stroke="#1c1c1c" stroke-width="1.3" fill="none" />
<path d="M1496.83,888.36 C1496.22,898.64 1491.95,908.82 1485.13,916.92 L1516.07,916.92 C1509.25,908.82 1504.98,898.64 1504.37,888.36" stroke="#1c1c1c" stroke-width="1.3" fill="none" />
<path d="M1485.13,916.92 L1484.82,918.29 L1485.13,919.66 L1516.07,919.66 L1516.38,918.29 L1516.07,916.92" stroke="#1c1c1c" stroke-width="1.3" fill="#666" />
<path d="M1485.13,919.66 C1475.15,934.27 1466.9,954.63 1466.9,983.44 C1466.9,1001.46 1471.08,1015.71 1474.03,1022.99 L1527.17,1022.99 C1530.12,1015.71 1534.3,1001.46 1534.3,983.44 C1534.3,954.63 1526.05,934.27 1516.07,919.66" stroke="#1c1c1c" stroke-width="1.3" fill="none" />
<path d="M1488.08,919.66 C1480.75,930.71 1473.52,948.52 1473.52,976.01 C1473.52,992.3 1476.17,1004.51 1477.9,1010.11 L1523.3,1010.11 C1525.03,1004.51 1527.68,992.3 1527.68,976.01 C1527.68,948.52 1520.45,930.71 1513.12,919.66" stroke="#1c1c1c" stroke-width="1.3" fill="none" />
<path d="M1554.01,982.01 Q1554.01,981.7 1554.47,981.7 L1557.93,981.7 Q1558.39,981.7 1558.39,982.01 L1559.86,990.76 L1552.54,990.76 Z" stroke="#1c1c1c" stroke-width="1.3" fill="none" />
<path d="M1552.43,990.76 C1551.82,1001.04 1547.55,1011.22 1540.73,1019.32 L1571.67,1019.32 C1564.85,1011.22 1560.58,1001.04 1559.97,990.76" stroke="#1c1c1c" stroke-width="1.3" fill="none" />
<path d="M1540.73,1019.32 L1540.42,1020.69 L1540.73,1022.06 L1571.67,1022.06 L1571.98,1020.69 L1571.67,1019.32" stroke="#1c1c1c" stroke-width="1.3" fill="#666" />
<path d="M1540.73,1022.06 C1530.75,1036.67 1522.5,1057.03 1522.5,1085.84 C1522.5,1103.86 1526.68,1118.11 1529.63,1125.39 L1582.77,1125.39 C1585.72,1118.11 1589.9,1103.86 1589.9,1085.84 C1589.9,1057.03 1581.65,1036.67 1571.67,1022.06" stroke="#1c1c1c" stroke-width="1.3" fill="none" />
<path d="M1543.68,1022.06 C1536.35,1033.11 1529.12,1050.92 1529.12,1078.41 C1529.12,1094.7 1531.77,1106.91 1533.5,1112.51 L1578.9,1112.51 C1580.63,1106.91 1583.28,1094.7 1583.28,1078.41 C1583.28,1050.92 1576.05,1033.11 1568.72,1022.06" stroke="#1c1c1c" stroke-width="1.3" fill="none" />
<path d="M1609.61,803.41 Q1609.61,803.1 1610.07,803.1 L1613.53,803.1 Q1613.99,803.1 1613.99,803.41 L1615.46,812.16 L1608.14,812.16 Z" stroke="#1c1c1c" stroke-width="1.3" fill="none" />
<path d="M1608.03,812.16 C1607.42,822.44 1603.15,832.62 1596.33,840.72 L1627.27,840.72 C1620.45,832.62 1616.18,822.44 1615.57,812.16" stroke="#1c1c1c" stroke-width="1.3" fill="none" />
<path d="M1596.33,840.72 L1596.02,842.09 L1596.33,843.46 L1627.27,843.46 L1627.58,842.09 L1627.27,840.72" stroke="#1c1c1c" stroke-width="1.3" fill="#666" />
<path d="M1596.33,843.46 C1586.35,858.07 1578.1,878.43 1578.1,907.24 C1578.1,925.26 1582.28,939.51 1585.23,946.79 L1638.37,946.79 C1641.32,939.51 1645.5,925.26 1645.5,907.24 C1645.5,878.43 1637.25,858.07 1627.27,843.46" stroke="#1c1c1c" stroke-width="1.3" fill="none" />
<path d="M1599.28,843.46 C1591.95,854.51 1584.72,872.32 1584.72,899.81 C1584.72,916.1 1587.37,928.31 1589.1,933.91 L1634.5,933.91 C1636.23,928.31 1638.88,916.1 1638.88,899.81 C1638.88,872.32 1631.65,854.51 1624.32,843.46" stroke="#1c1c1c" stroke-width="1.3" fill="none" />
</g>
</svg>
</body></html>
